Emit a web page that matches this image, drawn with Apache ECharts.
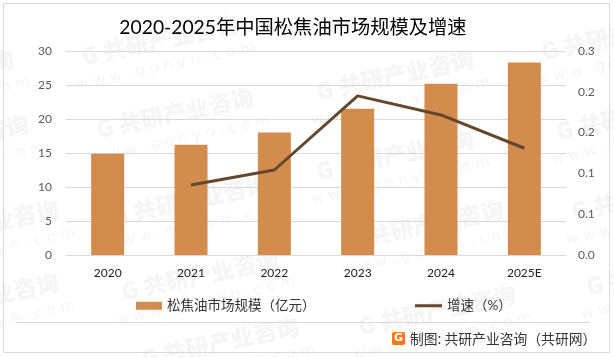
<!DOCTYPE html>
<html>
<head>
<meta charset="utf-8">
<style>html,body{margin:0;padding:0;background:#fff}#chart{width:614px;height:358px}</style>
<script src="https://cdn.jsdelivr.net/npm/echarts@6/dist/echarts.min.js"></script>
</head>
<body>
<div id="chart"></div>
<script>
var years=["2020","2021","2022","2023","2024","2025E"];
var marketSize=[14.9,16.2,18,21.5,25.2,28.3];
var growth=[null,0.103,0.125,0.234,0.206,0.157];
var titleText="2020-2025年中国松焦油市场规模及增速";
var barName="松焦油市场规模（亿元）";
var lineName="增速（%）";
var sourceText="制图: 共研产业咨询（共研网）";

var fontFamily='Lato, "Noto Sans CJK SC", sans-serif';
var chart=echarts.init(document.getElementById("chart"),null,{renderer:"canvas"});

// watermark stamps, centre of the logo line
var stamps=[[160,40],[175,113],[395,75],[395,155],[620,35],[635,115],[-65,75],[-50,140],[190,200],[200,275],[-20,225],[-20,298],[425,225],[437,310],[650,195],[665,270],[220,342]];
function stamp(p){
  return {
    type:"group",x:p[0],y:p[1],rotation:12*Math.PI/180,silent:true,z:0,
    children:[
      {type:"text",style:{text:"G 共研产业咨询",x:0,y:0,align:"center",verticalAlign:"middle",font:'900 23px "Noto Sans CJK SC"',fill:"#f5f5f5"}},
      {type:"text",style:{text:"w w w . g o n y n . c o m",x:0,y:27,align:"center",verticalAlign:"middle",font:'15px "DejaVu Sans"',fill:"#f5f5f5"}}
    ]
  };
}

var graphics=stamps.map(stamp);
graphics.push(
  {type:"rect",shape:{x:3.5,y:3.5,width:606,height:349},style:{fill:"none",stroke:"#d9d9d9",lineWidth:1},silent:true,z:1},
  {type:"line",shape:{x1:16,y1:322.5,x2:590,y2:322.5},style:{stroke:"#d9d9d9",lineWidth:1},silent:true,z:1},
  {type:"rect",shape:{x:392,y:332,width:13,height:13,r:2},style:{fill:"#f47a20"},silent:true,z:1},
  {type:"text",x:398.5,y:338.5,style:{text:"G",align:"center",verticalAlign:"middle",font:'bold 11px "DejaVu Sans"',fill:"#fff"},silent:true,z:2},
  {type:"text",x:410,y:339,style:{text:sourceText,align:"left",verticalAlign:"middle",font:'13.8px "Noto Sans CJK SC"',fill:"#333"},silent:true,z:2}
);

chart.setOption({
  animation:false,
  backgroundColor:"#fff",
  title:{text:titleText,left:288,top:13,textAlign:"center",textStyle:{fontFamily:fontFamily,fontSize:19.3,fontWeight:"normal",color:"#000"}},
  legend:[
    {top:294,left:131,itemWidth:26,itemHeight:8,icon:"rect",textStyle:{fontFamily:fontFamily,fontSize:13.5,color:"#333"},data:[barName]},
    {top:294,left:410,itemWidth:27,itemHeight:3,icon:"rect",textStyle:{fontFamily:fontFamily,fontSize:13.5,color:"#333"},data:[lineName]}
  ],
  grid:{left:66,right:48,top:51,height:204},
  xAxis:{
    type:"category",data:years,
    axisLine:{lineStyle:{color:"#d9d9d9"}},
    axisTick:{show:false},
    axisLabel:{fontFamily:fontFamily,fontSize:12,color:"#222",margin:12}
  },
  yAxis:[
    {
      type:"value",min:0,max:30,interval:5,
      axisLine:{show:false},axisTick:{show:false},
      axisLabel:{fontFamily:fontFamily,fontSize:12,color:"#595959",margin:14},
      splitLine:{lineStyle:{color:"#d9d9d9"}}
    },
    {
      type:"value",min:0,max:0.3,interval:0.06,
      axisLine:{show:false},axisTick:{show:false},
      axisLabel:{fontFamily:fontFamily,fontSize:12,color:"#595959",margin:12,formatter:function(v){return v.toFixed(1);}},
      splitLine:{show:false}
    }
  ],
  series:[
    {name:barName,type:"bar",data:marketSize,barWidth:33,itemStyle:{color:"#d18c4e"},z:2},
    {name:lineName,type:"line",yAxisIndex:1,data:growth,symbol:"none",lineStyle:{color:"#65472e",width:3},itemStyle:{color:"#65472e"},z:3}
  ],
  graphic:graphics
});
</script>
</body>
</html>
